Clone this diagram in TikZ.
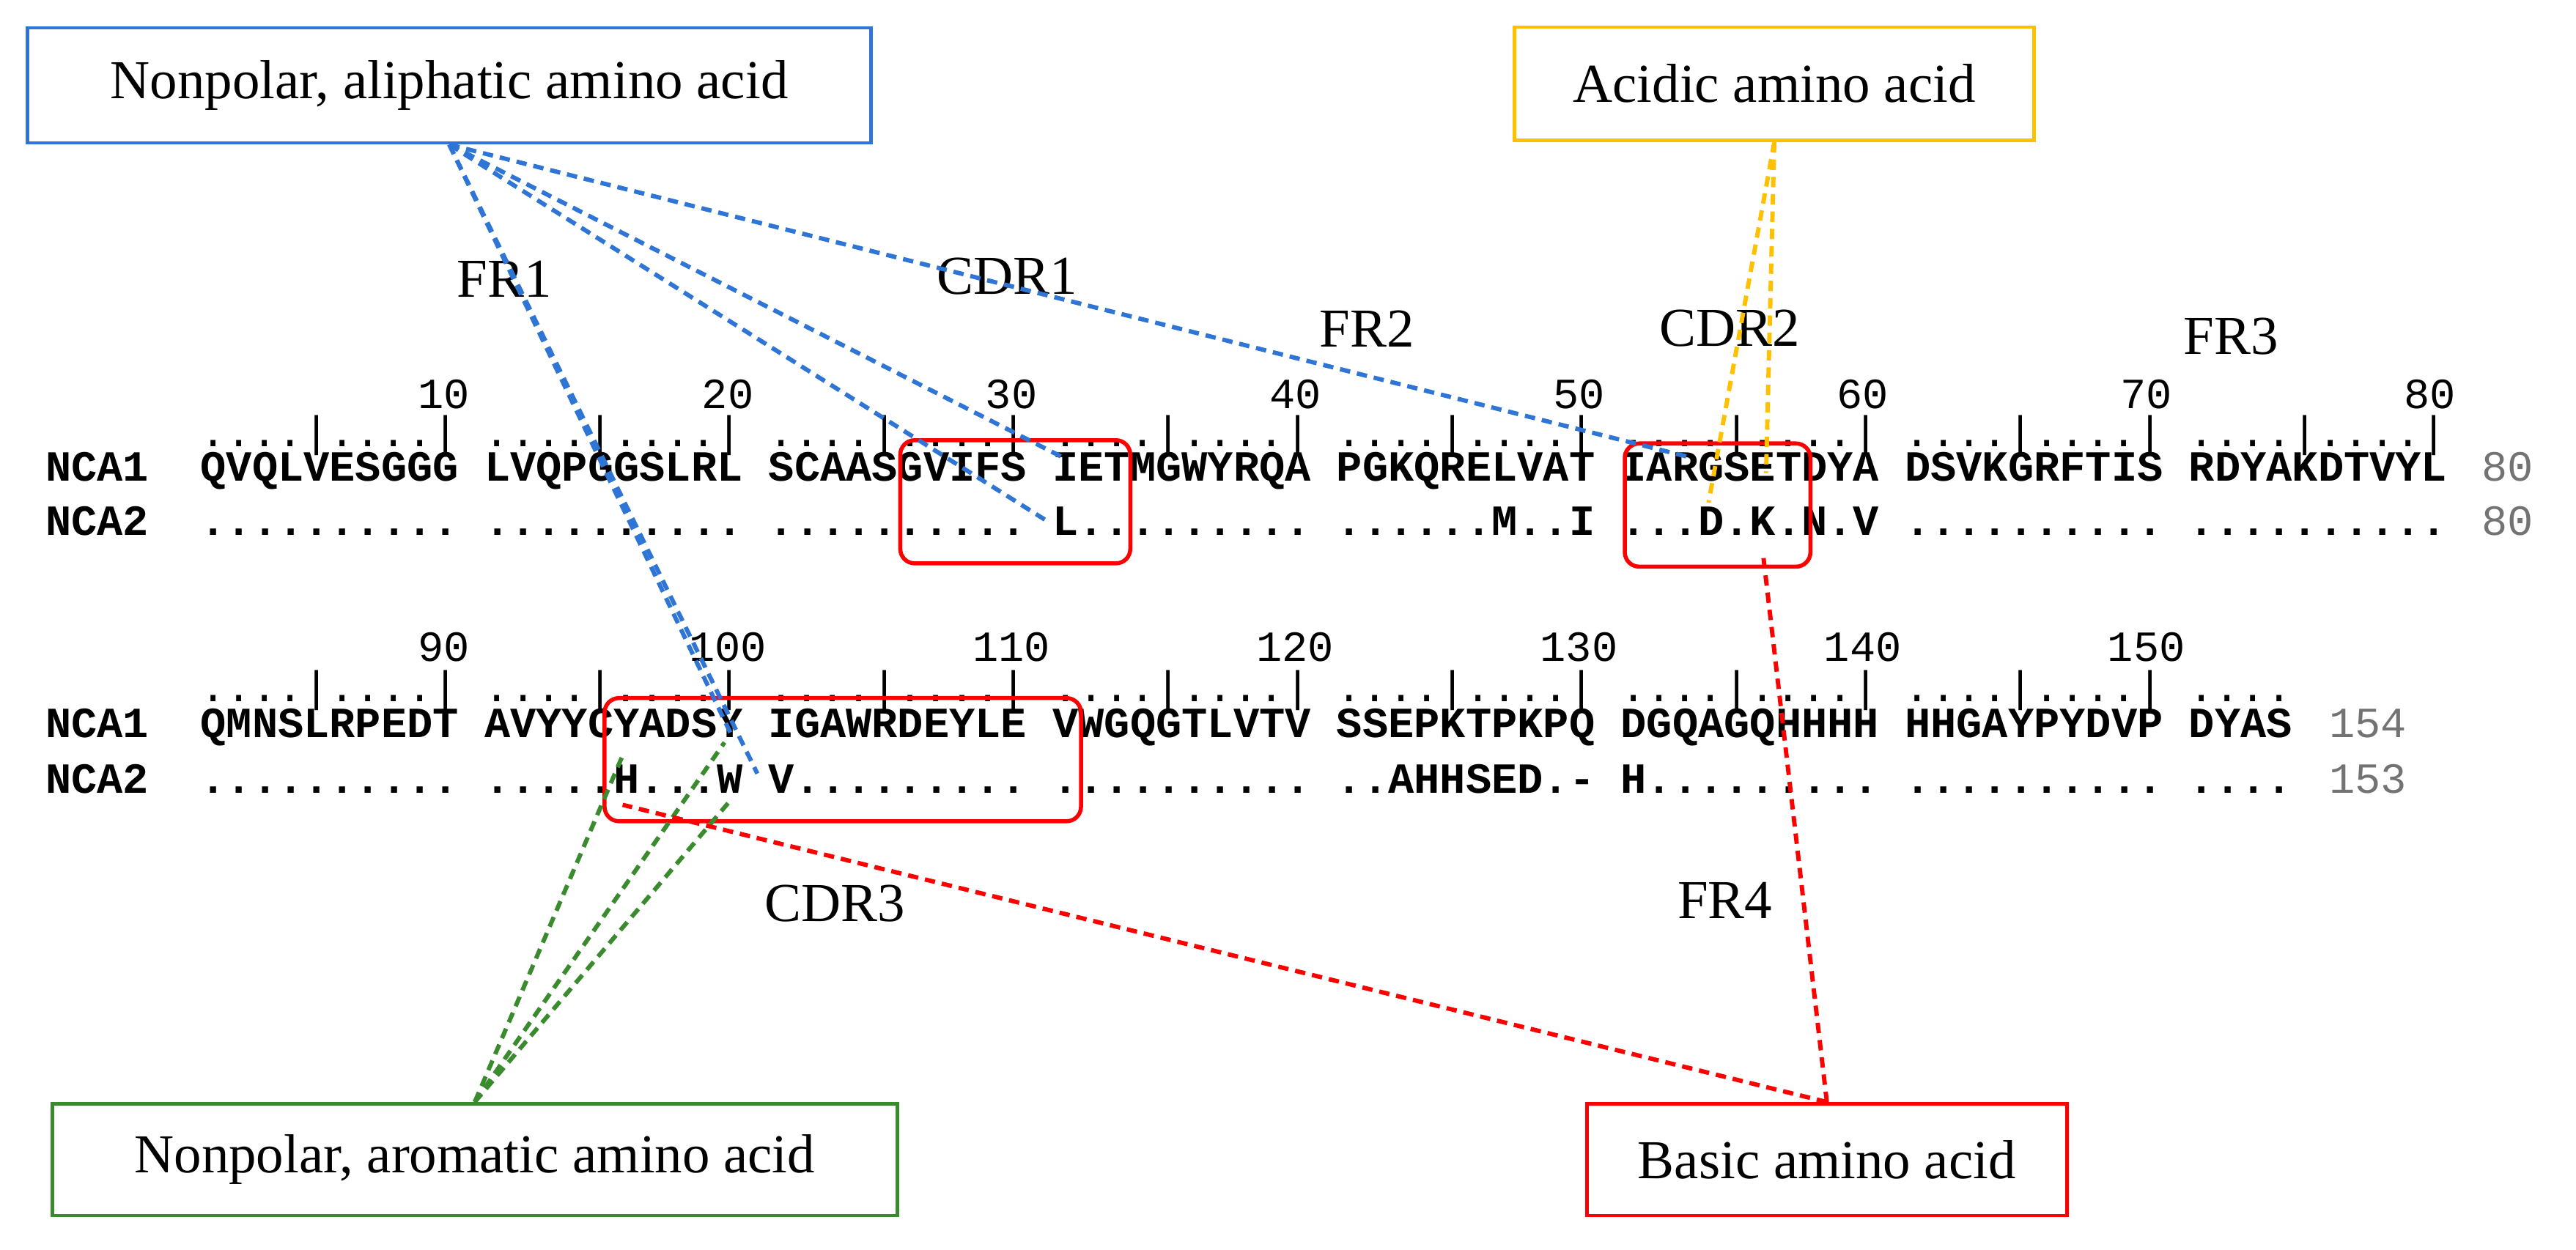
\documentclass[tikz,border=0pt]{standalone}
\usepackage{fontspec}
\setmainfont{Liberation Serif}
\newfontfamily\seqfont{Liberation Mono}
\usetikzlibrary{positioning}
\definecolor{aliphblue}{RGB}{46,117,214}
\definecolor{acidgold}{RGB}{255,192,0}
\definecolor{aromgreen}{RGB}{58,138,46}
\definecolor{basicred}{RGB}{255,0,0}
\tikzset{
  lab/.style={draw, line width=0.6pt, inner sep=0pt, font=\fontsize{9.5}{11}\selectfont},
  region/.style={inner sep=0pt, font=\fontsize{9.5}{11}\selectfont},
  seq/.style={anchor=base west, inner sep=0pt, font=\seqfont\bfseries\fontsize{7.45}{9}\selectfont},
  ruler/.style={anchor=base west, inner sep=0pt, font=\seqfont\fontsize{7.45}{9}\selectfont},
  num/.style={inner sep=0pt, font=\seqfont\fontsize{7.45}{9}\selectfont},
  tot/.style={anchor=base west, inner sep=0pt, text=black!55, font=\seqfont\fontsize{7.45}{9}\selectfont},
  cdr/.style={draw=basicred, line width=0.7pt, rounded corners=2.5pt},
  link/.style={dashed, dash pattern=on 1.8pt off 1.2pt, line width=0.75pt}
}
\begin{document}
\begin{tikzpicture}[x=0.01cm, y=-0.01cm]
  \useasboundingbox (0,0) rectangle (1568,761);
  % Group boxes
  \node[lab, draw=aliphblue, minimum width=5.13cm, minimum height=0.70cm] (aliph) at (273.5,52) {Nonpolar, aliphatic amino acid};
  \node[lab, draw=acidgold, minimum width=3.16cm, minimum height=0.69cm] (acid) at (1080,51) {Acidic amino acid};
  \node[lab, draw=aromgreen, minimum width=5.14cm, minimum height=0.68cm] (arom) at (289,706) {Nonpolar, aromatic amino acid};
  \node[lab, draw=basicred, minimum width=2.92cm, minimum height=0.68cm] (basic) at (1112,706) {Basic amino acid};

  % Region labels
  \node[region] (fr1) at (307,170) {FR1};
  \node[region] (cdr1) at (613,168) {CDR1};
  \node[region] (fr2) at (832,200) {FR2};
  \node[region] (cdr2) at (1053,200) {CDR2};
  \node[region] (fr3) at (1358,205) {FR3};
  \node[region] (cdr3) at (508,550) {CDR3};
  \node[region] (fr4) at (1050,548) {FR4};

  % Block 1 (1-80)
  \foreach \n in {10,20,...,80}{
    \pgfmathsetmacro\px{129+(\n-1)*15.7+floor((\n-1)/10)*15.7}
    \node[num] at (\px,240) {\n};
  }
  \node[ruler] (rul1) at (121.15,272) {....|....|\ ....|....|\ ....|....|\ ....|....|\ ....|....|\ ....|....|\ ....|....|\ ....|....|};
  \node[seq] (a1) at (27,293) {NCA1\ \ QVQLVESGGG\ LVQPGGSLRL\ SCAASGVIFS\ IETMGWYRQA\ PGKQRELVAT\ IARGSETDYA\ DSVKGRFTIS\ RDYAKDTVYL};
  \node[seq] (b1) at (27,326) {NCA2\ \ ..........\ ..........\ ..........\ L.........\ ......M..I\ ...D.K.N.V\ ..........\ ..........};
  \node[tot] (ta1) at (1510,293) {80};
  \node[tot] (tb1) at (1510,326) {80};

  % Block 2 (81-154)
  \foreach \n in {90,100,...,150}{
    \pgfmathsetmacro\px{129+(\n-81)*15.7+floor((\n-81)/10)*15.7}
    \node[num] at (\px,394) {\n};
  }
  \node[ruler] (rul2) at (121.15,427) {....|....|\ ....|....|\ ....|....|\ ....|....|\ ....|....|\ ....|....|\ ....|....|\ ....};
  \node[seq] (a2) at (27,449) {NCA1\ \ QMNSLRPEDT\ AVYYCYADSY\ IGAWRDEYLE\ VWGQGTLVTV\ SSEPKTPKPQ\ DGQAGQHHHH\ HHGAYPYDVP\ DYAS};
  \node[seq] (b2) at (27,483) {NCA2\ \ ..........\ .....H...W\ V.........\ ..........\ ..AHHSED.-\ H.........\ ..........\ ....};
  \node[tot] (ta2) at (1417,449) {154};
  \node[tot] (tb2) at (1417,483) {153};

  % CDR frames
  \draw[cdr] (548,268) rectangle (688,343);
  \draw[cdr] (989,270) rectangle (1102,345);
  \draw[cdr] (368,425) rectangle (658,500);

  % Residue end points
  \coordinate (resI31) at (646,278);
  \coordinate (resL31) at (637,317);
  \coordinate (resA52) at (1027,278);
  \coordinate (resY100) at (445,447);
  \coordinate (resV101) at (461,471);
  \coordinate (resD54) at (1040,306);
  \coordinate (resE56) at (1075,288);
  \coordinate (resH96) at (379,460);
  \coordinate (resY100b) at (441,452);
  \coordinate (resW100) at (444,488);
  \coordinate (resK56) at (1073,336);
  \coordinate (resH96b) at (379,490);

  % Links
  \foreach \r in {resI31,resL31,resA52,resY100,resV101}
    \draw[link, aliphblue] (aliph.south) -- (\r);
  \foreach \r in {resD54,resE56}
    \draw[link, acidgold] (acid.south) -- (\r);
  \foreach \r in {resH96,resY100b,resW100}
    \draw[link, aromgreen] (arom.north) -- (\r);
  \foreach \r in {resK56,resH96b}
    \draw[link, basicred] (basic.north) -- (\r);
\end{tikzpicture}
\end{document}
